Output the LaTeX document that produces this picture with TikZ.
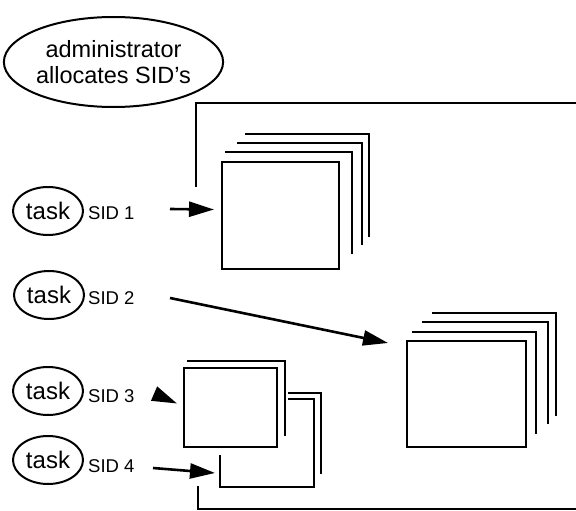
\documentclass[tikz,border=0pt]{standalone}
\usepackage{fontspec}
\setmainfont{Liberation Sans}
\usetikzlibrary{shapes.geometric,arrows.meta,calc}
\tikzset{
  thickline/.style={line width=2.8pt, line join=miter},
  paperbox/.style={draw, line width=2.8pt, rectangle, inner sep=0pt, outer sep=0pt, fill=white},
  hidden/.style={draw=none, rectangle, inner sep=0pt, outer sep=0pt},
  bubble/.style={draw, ellipse, line width=2pt, inner sep=0pt, outer sep=0pt},
  tasknode/.style={bubble, minimum width=70pt, minimum height=48pt, font=\fontsize{24}{26}\selectfont},
  sidlabel/.style={anchor=west, inner sep=0pt, font=\fontsize{18.5}{20}\selectfont},
  arr/.style={line width=2.6pt, -{Triangle[length=25pt,width=15pt]}}
}
\begin{document}
\begin{tikzpicture}[x=1pt,y=-1pt]
\useasboundingbox (0,0) rectangle (576,511);

% administrator
\node[bubble, minimum width=203pt, minimum height=90pt, align=center,
      font=\fontsize{23.5}{26}\selectfont] (admin) at (113.5,62) {administrator\\allocates SID's};

% main frame
\draw[thickline] (196,187) -- (196,103) -- (576,103);
\draw[thickline] (198,486) -- (198,509) -- (576,509);

% tasks
\node[tasknode] (task1) at (48,211) {task};
\node[tasknode] (task2) at (49,295) {task};
\node[tasknode] (task3) at (48,391) {task};
\node[tasknode] (task4) at (48,460) {task};
\node[sidlabel] (sid1) at (88,213) {SID 1};
\node[sidlabel] (sid2) at (88,298) {SID 2};
\node[sidlabel] (sid3) at (88,396) {SID 3};
\node[sidlabel] (sid4) at (88,466) {SID 4};

% stack 1
\draw[thickline] (245,134) -- (369,134) -- (369,237);
\draw[thickline] (237,143) -- (362,143) -- (362,245);
\draw[thickline] (225,152) -- (352,152) -- (352,254);
\node[paperbox, minimum width=117pt, minimum height=107pt] (box1) at (280.5,215.5) {};

% stack 2
\draw[thickline] (432,313) -- (556,313) -- (556,416);
\draw[thickline] (422,322) -- (548,322) -- (548,424);
\draw[thickline] (412,332) -- (536,332) -- (536,434);
\node[paperbox, minimum width=119pt, minimum height=106pt] (box2) at (466.5,394) {};

% stack 3 / 4
\node[hidden, minimum width=94pt, minimum height=88pt] (box4) at (267,443) {};
\draw[thickline] (288,393) -- (321,393) -- (321,474);
\draw[thickline] (288,399) -- (box4.north east) -- (box4.south east) -- (box4.south west) -- (220,455);
\draw[thickline] (187,361) -- (285,361) -- (285,436);
\node[paperbox, minimum width=93pt, minimum height=79pt] (box3) at (230.5,407.5) {};

% arrows
\coordinate (a1) at (170,209);
\draw[arr] (a1) -- ($(box1.west)+(-8,-6)$);
\coordinate (a2) at (170,298);
\draw[arr] (a2) -- ($(box2.north west)+(-19,2)$);
\coordinate (a3) at (155,394);
\draw[arr] (a3) -- ($(box3.west)+(-7,-4)$);
\coordinate (a4) at (153,468);
\draw[arr] (a4) -- ($(box4.west)+(-5,30)$);
\end{tikzpicture}
\end{document}
